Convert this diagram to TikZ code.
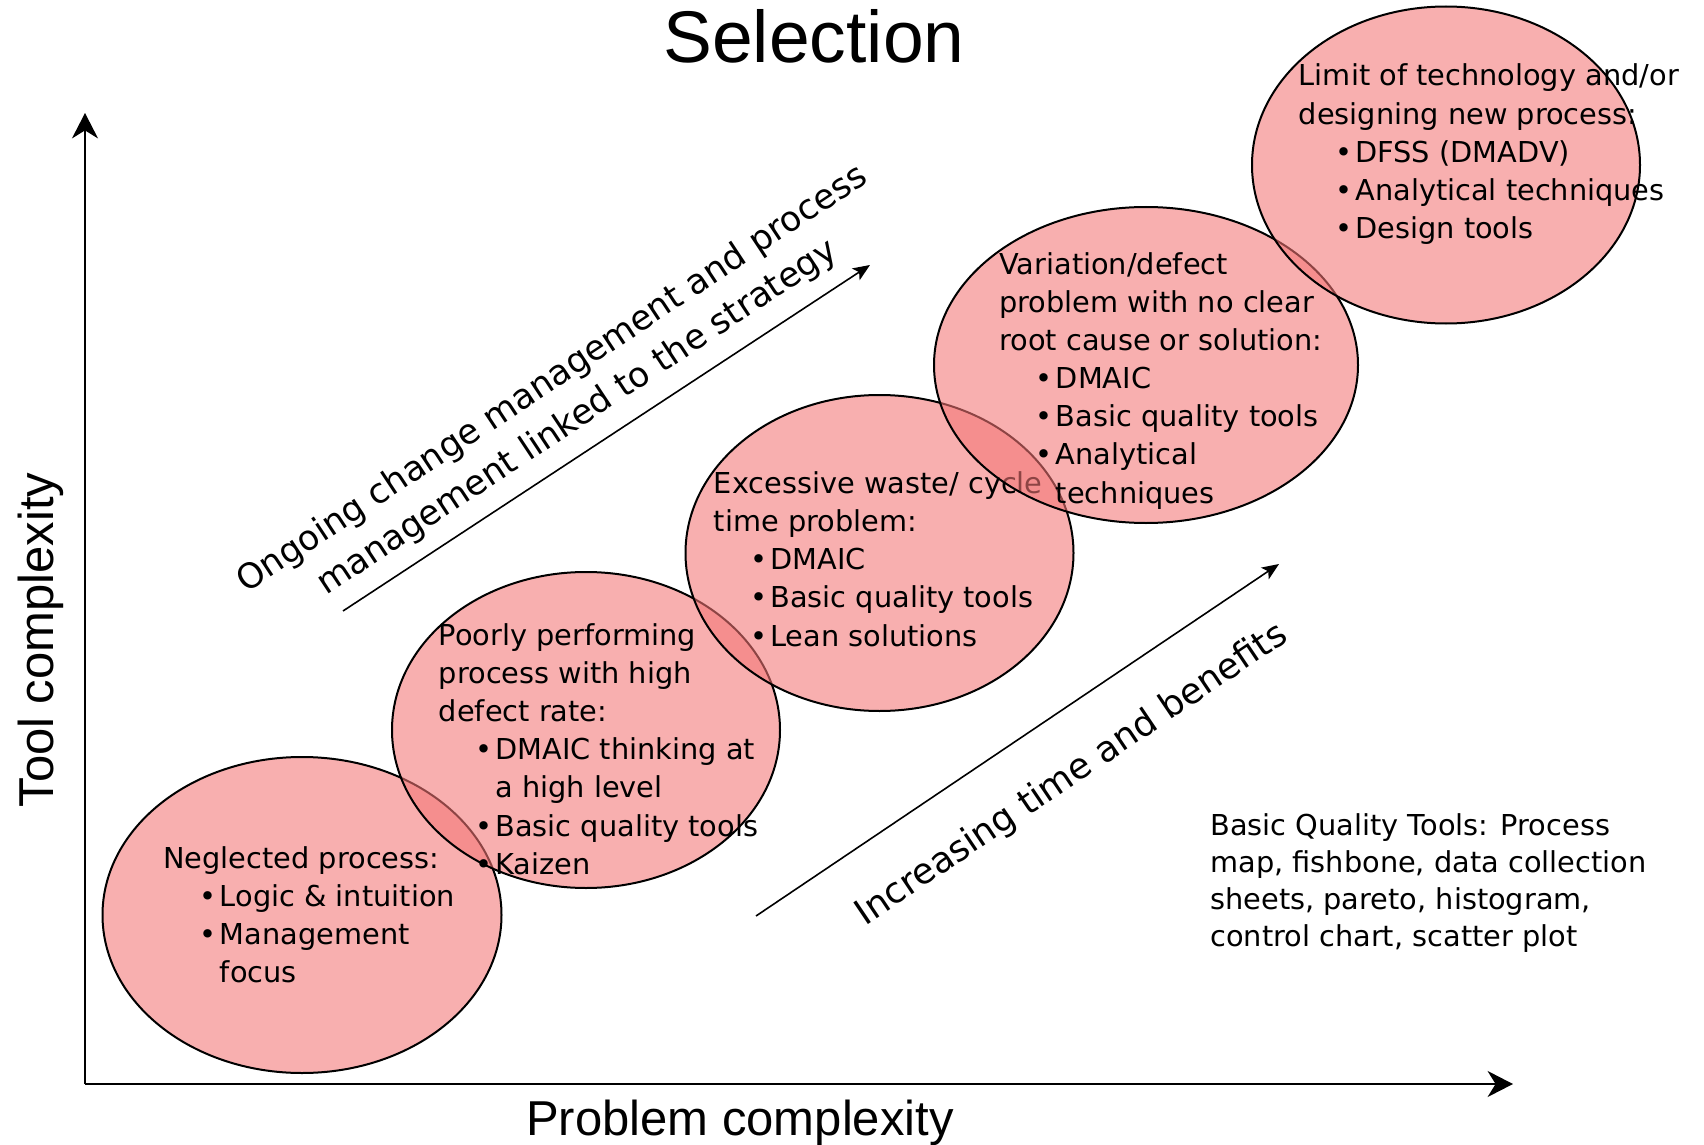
\documentclass[tikz,border=0pt]{standalone}
\usepackage{fontspec}
\setmainfont{DejaVu Sans}
\newfontfamily\arialf{Liberation Sans}
\usetikzlibrary{shapes.geometric,arrows.meta}
\definecolor{bubblefill}{RGB}{243,118,118}
\newcommand{\bul}{\hspace*{22.5pt}\makebox[0pt]{•}\hspace*{5.75pt}}
\newcommand{\ind}{\hspace*{28.25pt}}
\begin{document}
\begin{tikzpicture}[x=0.5pt,y=-0.5pt,
  bubble/.style={ellipse, draw=black, line width=1pt, fill=bubblefill, fill opacity=0.58, draw opacity=1, inner sep=0pt},
  btext/.style={anchor=base west, inner sep=0pt, font=\fontsize{14.4}{19.1}\selectfont},
  axis/.style={line width=1pt, -{Stealth[length=12.7pt,width=13pt,inset=4pt]}},
  diag/.style={line width=0.8pt, -{Stealth[length=8.5pt,width=7pt,inset=2pt]}},
  dtext/.style={font=\fontsize{17.3}{23}\selectfont, align=center, inner sep=0pt},
  label/.style={font=\arialf\fontsize{24.5}{29}\selectfont, anchor=base, inner sep=0pt},
]
\useasboundingbox (0,0) rectangle (1704,1145);

% title and axes
\node[font=\arialf\fontsize{36.6}{43}\selectfont, anchor=base, inner sep=0pt] (title) at (814,63) {Selection};
\coordinate (O) at (85,1084);
\coordinate (Ytip) at (85,113);
\coordinate (Xtip) at (1513,1084);
\draw[axis] (O) -- (Ytip);
\draw[axis] (O) -- (Xtip);
\node[label, rotate=90] (ylab) at (54,640) {Tool complexity};
\node[label] (xlab) at (740,1135) {Problem complexity};

% ellipses with their texts
\node[bubble, minimum width=199.5pt, minimum height=158pt] (e1) at (302,915) {};
\node[btext] (t1) at (163,868.3) {\vtop{\hbox{Neglected process:}\hbox{\bul Logic \& intuition}\hbox{\bul Management}\hbox{\ind focus}}};

\node[bubble, minimum width=194pt, minimum height=158pt] (e2) at (586,730) {};
\node[btext] (t2) at (438.5,645) {\vtop{\hbox{Poorly performing}\hbox{process with high}\hbox{defect rate:}\hbox{\bul DMAIC thinking at}\hbox{\ind a high level}\hbox{\bul Basic quality tools}\hbox{\bul Kaizen}}};

\node[bubble, minimum width=194pt, minimum height=158pt] (e3) at (879.5,553) {};
\node[btext] (t3) at (713.5,493.3) {\vtop{\hbox{Excessive waste/ cycle}\hbox{time problem:}\hbox{\bul DMAIC}\hbox{\bul Basic quality tools}\hbox{\bul Lean solutions}}};

\node[bubble, minimum width=212pt, minimum height=158pt] (e4) at (1146,365) {};
\node[btext] (t4) at (999,274) {\vtop{\hbox{Variation/defect}\hbox{problem with no clear}\hbox{root cause or solution:}\hbox{\bul DMAIC}\hbox{\bul Basic quality tools}\hbox{\bul Analytical}\hbox{\ind techniques}}};

\node[bubble, minimum width=194pt, minimum height=158.5pt] (e5) at (1446,165) {};
\node[btext] (t5) at (1298.5,86) {\vtop{\hbox{Limit of technology and/or}\hbox{designing new process:}\hbox{\bul DFSS (DMADV)}\hbox{\bul Analytical techniques}\hbox{\bul Design tools}}};

% diagonal arrows and texts
\coordinate (a1s) at (343,611);
\coordinate (a1e) at (870,265);
\draw[diag] (a1s) -- (a1e);
\node[dtext, rotate=33.5] (d1) at (565,399) {Ongoing change management and process\\management linked to the strategy};

\coordinate (a2s) at (756,916);
\coordinate (a2e) at (1279,564);
\draw[diag] (a2s) -- (a2e);
\node[dtext, rotate=34, font=\fontsize{17.9}{23}\selectfont] (d2) at (1072,775) {Increasing time and benefits};

% note
\node[btext] (note) at (1210,835.5) {\vtop{\baselineskip=18.5pt \hbox{Basic Quality Tools: Process}\hbox{map, fishbone, data collection}\hbox{sheets, pareto, histogram,}\hbox{control chart, scatter plot}}};
\end{tikzpicture}
\end{document}
